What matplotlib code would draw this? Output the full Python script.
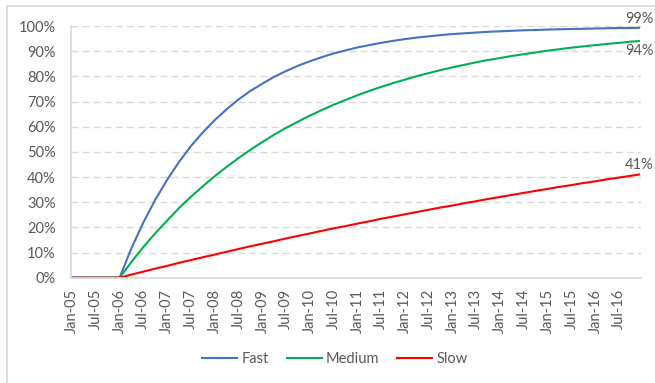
import matplotlib.pyplot as plt
import matplotlib.dates as mdates
from matplotlib.patches import Rectangle
import pandas as pd

# quarterly readings from Jan-06 onward, plus the Dec-16 end point
quarters = list(pd.date_range("2006-01-01", "2016-10-01", freq="QS")) + [pd.Timestamp("2016-12-01")]
dates = [pd.Timestamp("2005-01-01")] + quarters

fast = [0, 0, 11.6, 21.8, 30.9, 38.9, 45.9, 52.2, 57.7, 62.6, 66.9, 70.8, 74.2, 77.1, 79.8,
        82.1, 84.2, 86.0, 87.6, 89.1, 90.3, 91.5, 92.4, 93.3, 94.1, 94.8, 95.4, 95.9, 96.4,
        96.8, 97.1, 97.4, 97.7, 97.9, 98.1, 98.3, 98.4, 98.6, 98.7, 98.8, 98.9, 99.0, 99.1,
        99.2, 99.2, 99.3]
medium = [0, 0, 6.2, 12.1, 17.6, 22.7, 27.6, 32.1, 36.3, 40.3, 44.0, 47.5, 50.8, 53.9, 56.8,
          59.5, 62.0, 64.4, 66.6, 68.7, 70.6, 72.5, 74.2, 75.8, 77.3, 78.7, 80.1, 81.3, 82.5,
          83.6, 84.6, 85.6, 86.5, 87.3, 88.1, 88.8, 89.5, 90.2, 90.8, 91.4, 91.9, 92.4, 92.9,
          93.3, 93.8, 94.0]
slow = [0, 0, 1.2, 2.4, 3.6, 4.7, 5.9, 7.0, 8.1, 9.2, 10.3, 11.4, 12.5, 13.5, 14.5,
        15.6, 16.6, 17.6, 18.6, 19.6, 20.5, 21.5, 22.4, 23.4, 24.3, 25.2, 26.1, 27.0, 27.9,
        28.7, 29.6, 30.4, 31.3, 32.1, 32.9, 33.7, 34.5, 35.3, 36.1, 36.8, 37.6, 38.3, 39.1,
        39.8, 40.5, 41.0]

series = [("Fast", fast, "#4472C4"), ("Medium", medium, "#00B050"), ("Slow", slow, "#FF0000")]
end_labels = {"Fast": (1, "bottom"), "Medium": (-2, "top"), "Slow": (1.5, "bottom")}

plt.rcParams["font.family"] = ["Lato", "DejaVu Sans"]
text_color = "#595959"
grid_color = "#D9D9D9"

fig = plt.figure(figsize=(6.55, 3.83), dpi=100)
fig.patches.append(Rectangle((7 / 655, -0.05), 1.0, 1.05 - 6 / 383, transform=fig.transFigure,
                             fill=False, edgecolor=grid_color, linewidth=1.2))
ax = fig.add_axes([71 / 655, 1 - 277.7 / 383, 570 / 655, (277.7 - 26) / 383])

for name, vals, color in series:
    ax.plot(dates, vals, color=color, linewidth=1.5, label=name)
    dy, va = end_labels[name]
    ax.annotate(f"{vals[-1]:.0f}%", (dates[-1], vals[-1]), xytext=(0, dy),
                textcoords="offset points", ha="center", va=va, fontsize=10.5,
                color=text_color, annotation_clip=False)

ax.set_ylim(0, 100)
ax.set_yticks(range(0, 101, 10))
ax.set_yticklabels([f"{v}%" for v in range(0, 101, 10)])
ax.set_xlim(pd.Timestamp("2004-12-24"), pd.Timestamp("2016-12-16"))
ax.xaxis.set_major_locator(mdates.MonthLocator(bymonth=[1, 7]))
ax.xaxis.set_major_formatter(mdates.DateFormatter("%b-%y"))
plt.setp(ax.get_xticklabels(), rotation=90)

ax.grid(axis="y", color=grid_color, linestyle=(0, (5, 3)), linewidth=1)
ax.set_axisbelow(True)
for side in ["top", "right"]:
    ax.spines[side].set_visible(False)
for side in ["left", "bottom"]:
    ax.spines[side].set_color(grid_color)
    ax.spines[side].set_linewidth(1.2)
ax.tick_params(length=0, labelsize=10.5, labelcolor=text_color)
ax.tick_params(axis="y", pad=11)
ax.tick_params(axis="x", pad=8)

ax.legend(loc="center", bbox_to_anchor=(335 / 655, 1 - 359 / 383), bbox_transform=fig.transFigure,
          ncol=3, frameon=False, fontsize=10.5, labelcolor=text_color, handlelength=2.4,
          columnspacing=1.2, handletextpad=0.3)

fig.savefig("out.png", dpi=100)
